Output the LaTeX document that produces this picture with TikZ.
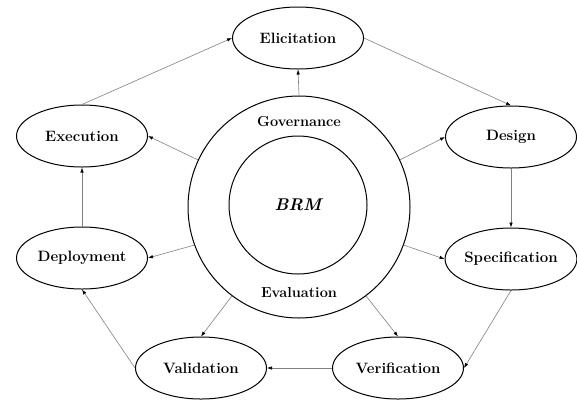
\documentclass[tikz,border=0pt]{standalone}
\usetikzlibrary{arrows.meta,shapes.geometric}

\definecolor{flowgray}{gray}{0.5}

\begin{document}
\begin{tikzpicture}[x=1pt, y=-1pt,
  phase/.style={draw, ellipse, line width=1pt, inner sep=0pt,
    minimum width=131pt, minimum height=62pt,
    font=\fontsize{15}{17}\selectfont\bfseries},
  ring/.style={draw, circle, line width=1pt, inner sep=0pt},
  flow/.style={draw=flowgray, line width=0.6pt,
    -{Latex[length=5pt,width=3.5pt,color=black]}}] %brm
            \useasboundingbox (0,0) rectangle (577,400);

            \node[ring, minimum size=222pt] (gov) at (299,207) {};
            \node[ring, minimum size=138pt, font=\fontsize{17}{19}\selectfont\bfseries\itshape] (brm) at (298,205) {BRM};
            \node[font=\fontsize{14.5}{16}\selectfont\bfseries] (govlbl) at (299,122) {Governance};
            \node[font=\fontsize{14.5}{16}\selectfont\bfseries] (evallbl) at (299,293) {Evaluation};

            \node[phase] (eli) at (298,38) {Elicitation};
            \node[phase] (des) at (511,137) {Design};
            \node[phase] (spe) at (511,259) {Specification};
            \node[phase] (ver) at (398,368) {Verification};
            \node[phase] (val) at (201,368) {Validation};
            \node[phase] (dep) at (82,258) {Deployment};
            \node[phase] (exe) at (82,136) {Execution};

            \draw[flow] (eli.east) -- (des.north);
            \draw[flow] (des.south) -- (spe.north);
            \draw[flow] (spe.south) -- (ver.east);
            \draw[flow] (ver.west) -- (val.east);
            \draw[flow] (val.west) -- (dep.south);
            \draw[flow] (dep.north) -- (exe.south);
            \draw[flow] (exe.north) -- (eli.west);

            \draw[flow] (gov.90) -- (eli.south);
            \draw[flow] (gov.25) -- (des.west);
            \draw[flow] (gov.340) -- (spe.west);
            \draw[flow] (gov.307) -- (ver.north);
            \draw[flow] (gov.233) -- (val.north);
            \draw[flow] (gov.200) -- (dep.east);
            \draw[flow] (gov.155) -- (exe.east);
        \end{tikzpicture}
\end{document}
